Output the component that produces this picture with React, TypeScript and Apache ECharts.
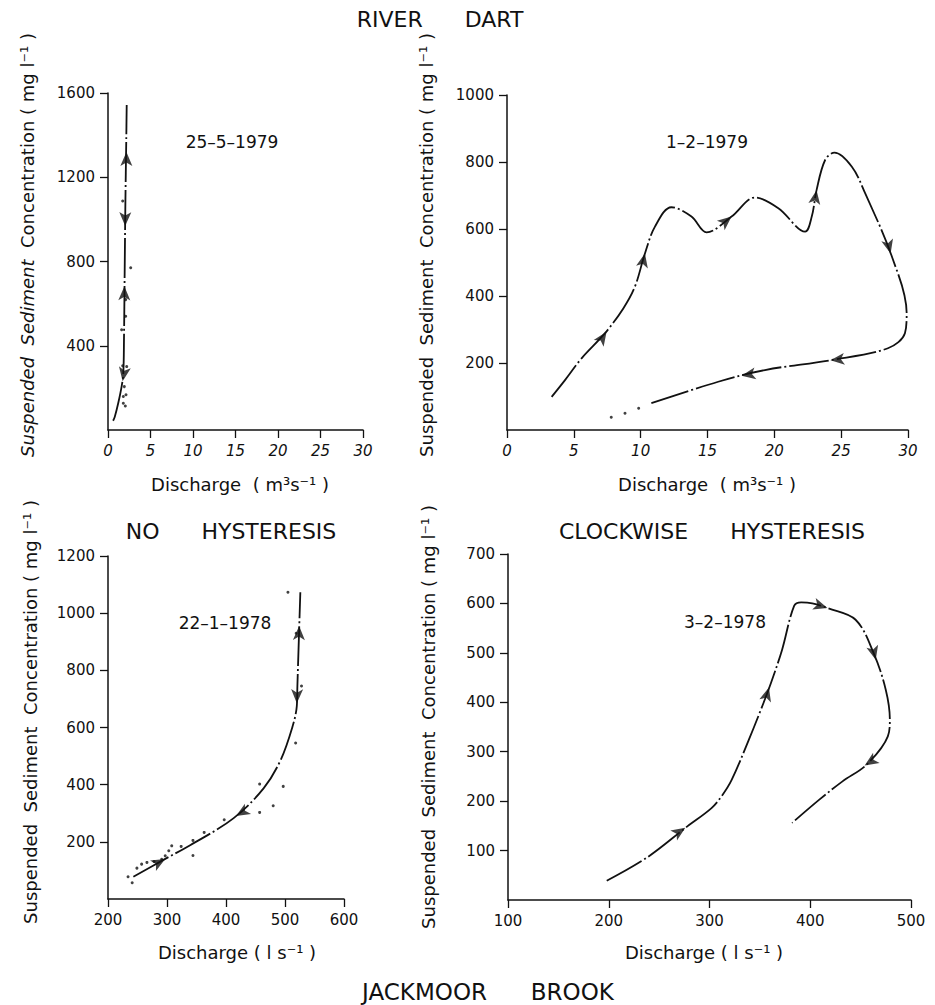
import React, { useEffect, useRef } from "react";
import * as echarts from "echarts";

// ---------- data ----------
// Panel 1: River Dart 25-5-1979  (discharge m3/s, SSC mg/l)
const p1Curve = [
  [0.6, 44], [0.8, 63], [1.2, 127], [1.6, 206], [1.8, 270], [1.88, 430],
  [1.96, 745], [2.04, 1060], [2.15, 1380], [2.2, 1543],
];
const p1Dots = [
  [1.73, 1087], [2.67, 770], [2.08, 619], [2.08, 540], [1.6, 476], [1.73, 305],
  [2.2, 301], [1.92, 206], [1.8, 159], [2.12, 167], [1.8, 127], [2.04, 114],
];
// arrows: [x, y, towardX, towardY]
const p1Arrows = [
  [2.17, 1320, 2.19, 1420],
  [2.02, 968, 2.0, 868],
  [1.93, 682, 1.95, 782],
  [1.72, 232, 1.55, 190],
];

// Panel 2: River Dart 1-2-1979
const p2Curve = [
  [3.34, 99], [4.34, 149], [5.58, 214], [7.33, 289], [8.7, 363], [9.57, 428],
  [10.32, 527], [11.07, 607], [12.3, 665], [13.8, 637], [14.93, 590], [16.8, 637],
  [18.55, 694], [20.3, 662], [22.3, 592], [22.8, 637], [23.16, 716], [23.8, 806],
  [24.5, 828], [25.8, 786], [26.8, 706], [28.8, 517], [29.9, 348], [29.77, 289],
  [28.5, 244], [24.3, 209], [19.3, 179], [15.8, 144], [10.8, 80],
];
const p2Dots = [[7.8, 38], [8.83, 50], [9.85, 65]];
const p2Arrows = [
  [7.45, 293, 8.0, 325],
  [10.32, 527, 10.5, 560],
  [16.8, 637, 17.5, 660],
  [23.16, 716, 23.3, 750],
  [28.7, 527, 29.0, 480],
  [24.2, 208, 23.0, 203],
  [17.55, 162, 16.5, 155],
];

// Panel 3: Jackmoor Brook 22-1-1978  (discharge l/s)
const p3Curve = [
  [243, 78], [294, 137], [340, 189], [413, 283], [464, 388], [493, 488],
  [513, 605], [520, 675], [521, 745], [524, 944], [526, 1073],
];
const p3Dots = [
  [234, 78], [241, 57], [249, 108], [257, 122], [266, 128], [278, 131], [291, 139],
  [297, 151], [303, 169], [308, 186], [324, 184], [344, 205], [344, 152], [363, 233],
  [397, 277], [457, 303], [457, 402], [480, 326], [497, 394], [518, 546], [505, 1073],
  [519, 930], [528, 745],
];
const p3Arrows = [
  [297, 140, 310, 155],
  [417, 290, 405, 275],
  [520, 685, 519.6, 650],
  [524, 955, 524.3, 990],
];

// Panel 4: Jackmoor Brook 3-2-1978
const p4Curve = [
  [198, 39], [238, 86], [278, 149], [302, 186], [312, 210], [322, 243], [339, 324],
  [351, 385], [361, 439], [372, 506], [384, 595], [391, 602], [402, 600], [418, 590],
  [445, 567], [463, 499], [475, 425], [479, 365], [477, 331], [456, 274], [432, 240],
  [409, 203], [382, 156],
];
const p4Arrows = [
  [276, 146, 290, 165],
  [359, 430, 362, 452],
  [417, 591, 430, 583],
  [465, 486, 467, 470],
  [454, 272, 445, 260],
];

// axis ranges / ticks
const xRanges = [[0, 30, 5], [0, 30, 5], [200, 600, 100], [100, 500, 100]];
const yRanges = [[0, 1600, 400], [0, 1000, 200], [0, 1200, 200], [0, 700, 100]];
const dateLabels = ["25\u20135\u20131979", "1\u20132\u20131979", "22\u20131\u20131978", "3\u20132\u20131978"];

const curves = [p1Curve, p2Curve, p3Curve, p4Curve];
const dots = [p1Dots, p2Dots, p3Dots, []];
const arrows = [p1Arrows, p2Arrows, p3Arrows, p4Arrows];

// ---------- layout ----------
const grids = [
  { left: 108, top: 93, width: 255, height: 337 },
  { left: 507, top: 95, width: 401, height: 335 },
  { left: 108, top: 556, width: 236, height: 343 },
  { left: 508, top: 554, width: 403, height: 346 },
];
const FONT = "DejaVu Sans";
const INK = "#111";

function range(a: number, b: number, s: number) {
  const r: number[] = [];
  for (let v = a; v <= b + 1e-9; v += s) r.push(v);
  return r;
}

export default function App() {
  const ref = useRef<HTMLDivElement>(null);
  useEffect(() => {
    if (!ref.current) return;
    const chart = echarts.init(ref.current, null, { renderer: "svg" });

    const xAxis = xRanges.map((r, i) => ({
      type: "value",
      gridIndex: i,
      min: r[0],
      max: r[1],
      interval: r[2],
      splitLine: { show: false },
      axisLine: { lineStyle: { color: INK, width: 1.5 } },
      axisTick: { length: 8, lineStyle: { color: INK, width: 1.3 } },
      axisLabel: {
        color: INK,
        fontFamily: FONT,
        fontSize: 15,
        margin: 13,
        fontStyle: i < 2 ? "italic" : "normal",
      },
    }));
    const yAxis = yRanges.map((r, i) => {
      const vals = range(r[0] + r[2], r[1], r[2]);
      return {
        type: "value",
        gridIndex: i,
        min: r[0],
        max: r[1],
        interval: r[2],
        splitLine: { show: false },
        axisLine: { lineStyle: { color: INK, width: 1.5 } },
        axisTick: { length: 8, lineStyle: { color: INK, width: 1.3 }, customValues: vals },
        axisLabel: {
          color: INK,
          fontFamily: FONT,
          fontSize: 15,
          margin: 13,
          customValues: vals,
          formatter: (v: number) => (v === 0 ? "" : String(v)),
        },
      };
    });

    const series: any[] = [];
    curves.forEach((c, i) => {
      series.push({
        id: "curve" + i,
        type: "line",
        xAxisIndex: i,
        yAxisIndex: i,
        data: c,
        smooth: 0.35,
        showSymbol: false,
        symbol: "none",
        lineStyle: { color: INK, width: 1.8, type: [40, 3, 2, 3] },
        z: 2,
      });
      series.push({
        id: "dots" + i,
        type: "scatter",
        xAxisIndex: i,
        yAxisIndex: i,
        data: dots[i],
        symbol: "circle",
        symbolSize: 3,
        itemStyle: { color: INK },
        z: 3,
      });
      series.push({
        id: "arrows" + i,
        type: "scatter",
        xAxisIndex: i,
        yAxisIndex: i,
        data: arrows[i].map((a) => [a[0], a[1]]),
        symbol: "arrow",
        symbolSize: [9, 14],
        itemStyle: { color: INK },
        z: 4,
      });
    });

    const txt = (x: number, y: number, text: string, size: number, extra: any = {}) => ({
      type: "text",
      x,
      y,
      ...extra,
      style: {
        text,
        fontFamily: FONT,
        fontSize: size,
        fill: INK,
        align: "center",
        verticalAlign: "middle",
        ...(extra.style || {}),
      },
    });
    const yName = "Suspended  Sediment  Concentration ( mg l\u207B\u00B9 )";
    const graphic: any[] = [
      txt(440, 19, "RIVER      DART", 22),
      txt(488, 992, "JACKMOOR      BROOK", 23),
      txt(231, 531, "NO      HYSTERESIS", 22),
      txt(712, 531, "CLOCKWISE      HYSTERESIS", 22),
      {
        type: "text",
        x: 27,
        y: 245,
        rotation: Math.PI / 2,
        style: {
          text: "{i|Suspended  Sediment}  Concentration ( mg l\u207B\u00B9 )",
          rich: { i: { fontStyle: "italic", fontFamily: FONT, fontSize: 18, fill: INK } },
          fontFamily: FONT,
          fontSize: 18,
          fill: INK,
          align: "center",
          verticalAlign: "middle",
        },
      },
      txt(426, 245, yName, 18, { rotation: Math.PI / 2 }),
      txt(30, 712, yName, 18, { rotation: Math.PI / 2 }),
      txt(428, 717, yName, 18, { rotation: Math.PI / 2 }),
      txt(240, 484, "Discharge  ( m\u00B3s\u207B\u00B9 )", 18),
      txt(707, 484, "Discharge  ( m\u00B3s\u207B\u00B9 )", 18),
      txt(237, 952, "Discharge ( l s\u207B\u00B9 )", 18),
      txt(704, 952, "Discharge ( l s\u207B\u00B9 )", 18),
      txt(232, 142, dateLabels[0], 17),
      txt(707, 142, dateLabels[1], 17),
      txt(225, 623, dateLabels[2], 17),
      txt(725, 622, dateLabels[3], 17),
    ];

    chart.setOption({
      animation: false,
      backgroundColor: "#fff",
      grid: grids.map((g) => ({ ...g, containLabel: false })),
      xAxis,
      yAxis,
      series,
      graphic,
    });

    // rotate arrowheads along the curve direction (in pixel space)
    const upd = arrows.map((list, i) => ({
      id: "arrows" + i,
      data: list.map((a) => {
        const p = chart.convertToPixel({ gridIndex: i } as any, [a[0], a[1]]) as number[];
        const q = chart.convertToPixel({ gridIndex: i } as any, [a[2], a[3]]) as number[];
        const dx = q[0] - p[0];
        const dy = q[1] - p[1];
        return { value: [a[0], a[1]], symbolRotate: (Math.atan2(-dx, -dy) * 180) / Math.PI };
      }),
    }));
    chart.setOption({ series: upd });

    return () => chart.dispose();
  }, []);
  return (
    <div
      ref={ref}
      style={{ position: "absolute", left: 0, top: 0, width: 935, height: 1005, background: "#fff" }}
    />
  );
}
